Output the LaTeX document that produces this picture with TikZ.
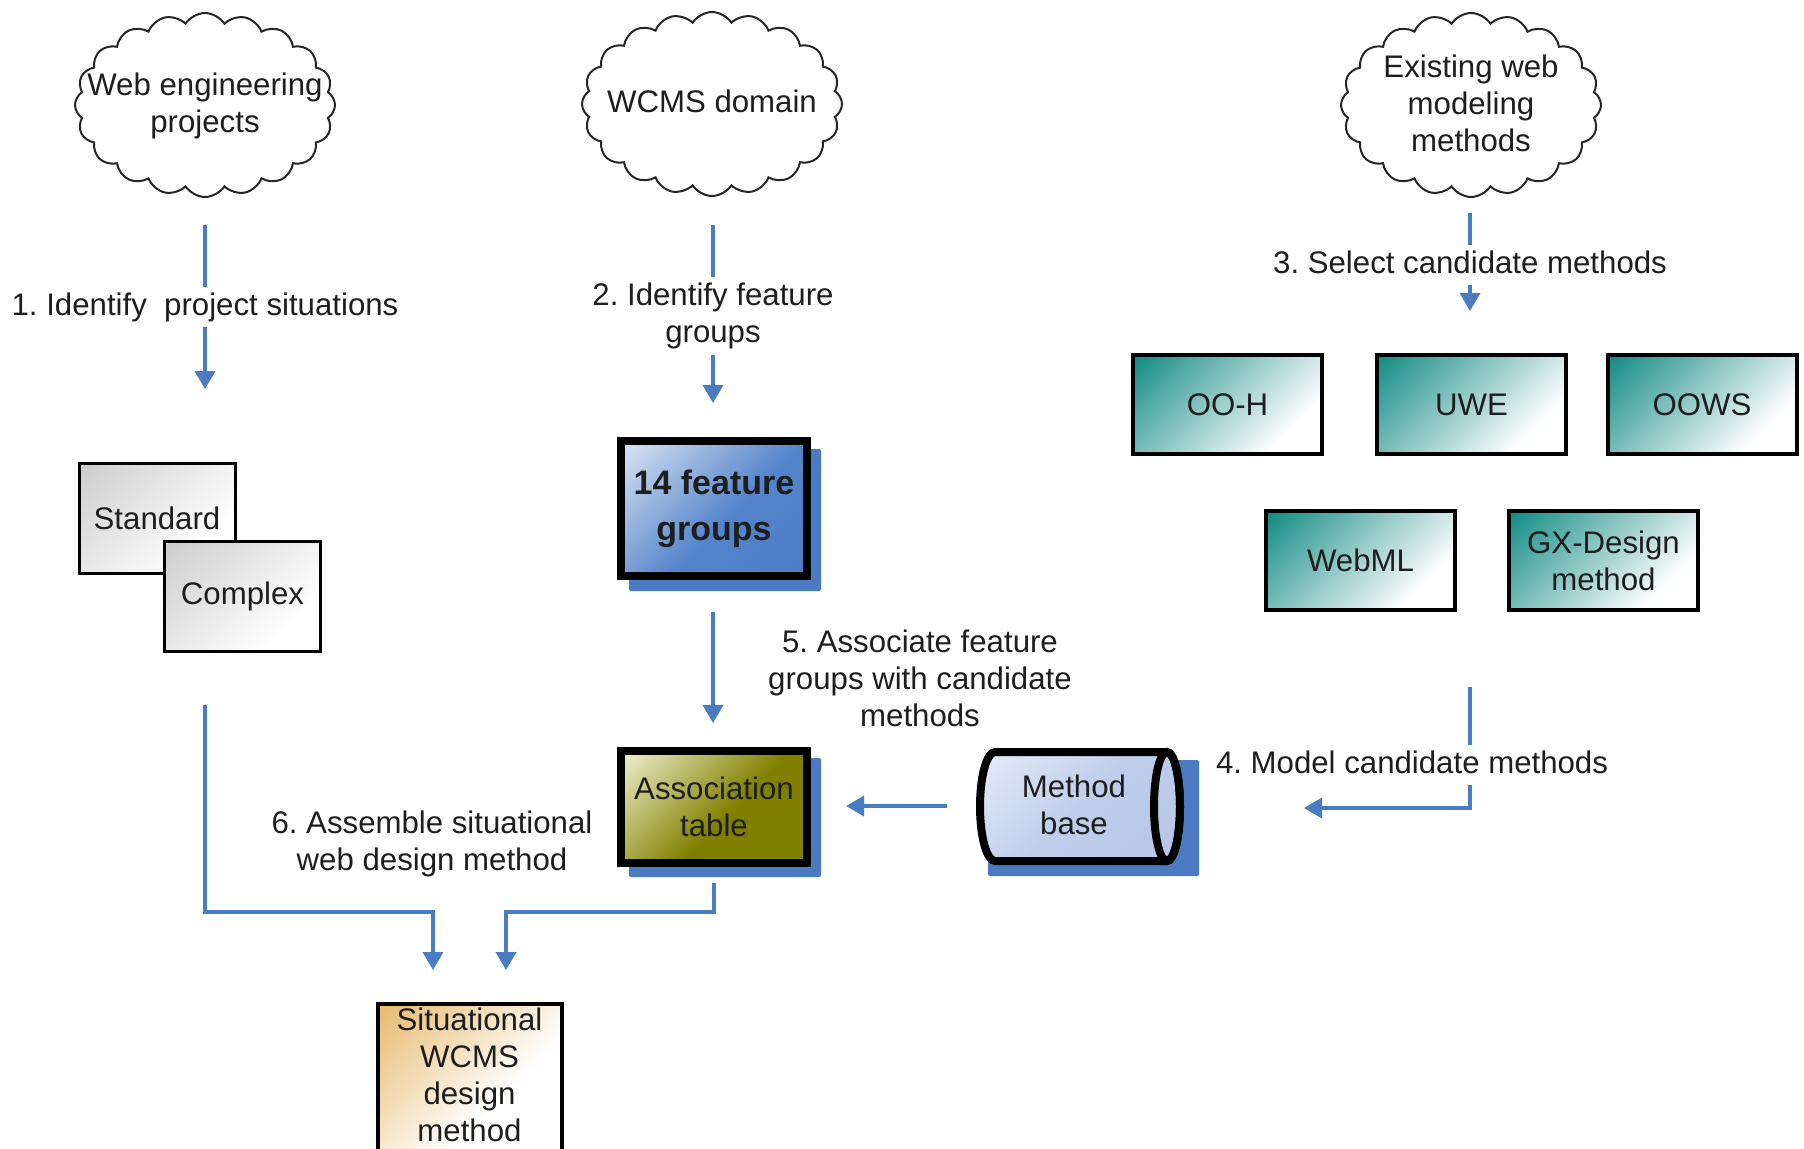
\documentclass[tikz,border=0pt]{standalone}
\usepackage{fontspec}
\setmainfont{Liberation Sans}
\usetikzlibrary{shapes.symbols,arrows.meta,calc}
\frenchspacing

\definecolor{arrblue}{RGB}{74,124,196}
\definecolor{shblue}{RGB}{74,122,194}
\definecolor{textc}{RGB}{30,30,30}
\definecolor{tealc}{RGB}{18,138,131}
\definecolor{grayc}{RGB}{205,205,205}
\definecolor{fgdark}{RGB}{72,122,196}
\definecolor{fgmid}{RGB}{84,132,202}
\definecolor{fglight}{RGB}{226,234,246}
\definecolor{olivedark}{RGB}{128,128,0}
\definecolor{olivelight}{RGB}{246,246,218}
\definecolor{mbdark}{RGB}{178,197,230}
\definecolor{mbmid}{RGB}{190,206,234}
\definecolor{mblight}{RGB}{230,237,248}
\definecolor{tanc}{RGB}{230,182,104}

\pgfdeclareverticalshading{tealsh}{100bp}{color(0bp)=(white); color(28bp)=(white); color(85bp)=(tealc); color(100bp)=(tealc)}
\pgfdeclareverticalshading{graysh}{100bp}{color(0bp)=(white); color(30bp)=(white); color(85bp)=(grayc); color(100bp)=(grayc)}
\pgfdeclareverticalshading{fgsh}{100bp}{color(0bp)=(fgdark); color(45bp)=(fgmid); color(87bp)=(fglight); color(100bp)=(fglight)}
\pgfdeclareverticalshading{olsh}{100bp}{color(0bp)=(olivedark); color(45bp)=(olivedark); color(87bp)=(olivelight); color(100bp)=(olivelight)}
\pgfdeclareverticalshading{mbsh}{100bp}{color(0bp)=(mbdark); color(50bp)=(mbmid); color(87bp)=(mblight); color(100bp)=(mblight)}
\pgfdeclareverticalshading{tansh}{100bp}{color(0bp)=(white); color(45bp)=(white); color(87bp)=(tanc); color(100bp)=(tanc)}

\tikzset{
  txt/.style={font=\fontsize{15.6}{18.5}\selectfont, align=center, text=textc, inner sep=1.5pt},
  lbl/.style={txt, fill=white, inner ysep=3pt},
  lblone/.style={txt, fill=white, text height=11.5pt, text depth=3.5pt, inner ysep=2.5pt},
  cloudsty/.style={cloud, draw=black!85, line width=1pt, cloud puffs=20, cloud puff arc=115,
    cloud ignores aspect, minimum width=130pt, minimum height=92pt, inner sep=0pt},
  arr/.style={draw=arrblue, line width=1.8pt, -{Triangle[length=9pt,width=10pt]}},
  graybox/.style={draw=black, line width=1.5pt, shading=graysh, shading angle=45,
    minimum width=78pt, minimum height=55pt, inner sep=0pt, txt},
  tealbox/.style={draw=black, line width=2pt, shading=tealsh, shading angle=45,
    minimum width=94.5pt, minimum height=49.5pt, inner sep=0pt, txt},
  thickbox/.style={draw=black, line width=4pt, shading angle=45,
    minimum width=93pt, inner sep=0pt, txt},
  shadowsty/.style={fill=shblue, rounded corners=1pt}
}

\begin{document}
\begin{tikzpicture}[x=0.5pt,y=-0.5pt]
\useasboundingbox (0,0) rectangle (1804,1148);
\clip (0,0) rectangle (1804,1148);
\fill[white] (0,0) rectangle (1804,1148);

% clouds
\node[cloudsty] (c1) at (205,105) {};
\node[txt] (c1t) at (205,106) {Web engineering\\projects};
\node[cloudsty] (c2) at (712,104) {};
\node[txt] (c2t) at (712,101) {WCMS domain};
\node[cloudsty] (c3) at (1471,105) {};
\node[txt] (c3t) at (1471,103) {Existing web\\modeling\\methods};

% situation boxes
\node[graybox] (std) at (157,518.5) {Standard};
\node[graybox] (cpx) at (242.5,596.5) {Complex};

% feature groups
\fill[shadowsty] (629,449) rectangle (821,591);
\node[thickbox, shading=fgsh, minimum height=67.5pt, font=\bfseries\fontsize{17}{23}\selectfont] (fg) at (714,508.5) {14 feature\\groups};

% candidate methods
\node[tealbox] (ooh) at (1227.5,404.5) {OO-H};
\node[tealbox] (uwe) at (1471.5,404.5) {UWE};
\node[tealbox] (oows) at (1702,404.5) {OOWS};
\node[tealbox] (webml) at (1360.5,560.5) {WebML};
\node[tealbox] (gx) at (1603.5,560.5) {GX-Design\\method};

% association table
\fill[shadowsty] (629,758) rectangle (821,877);
\node[thickbox, shading=olsh, minimum height=56pt] (at) at (714,807) {Association\\table};

% method base cylinder
\fill[shadowsty] (988,760) rectangle (1199,876);
\shade[shading=mbsh, shading angle=45] (995,752) -- (1167,752)
  arc[start angle=-90, end angle=90, x radius=13, y radius=54.5] -- (995,861)
  arc[start angle=90, end angle=270, x radius=15, y radius=54.5] -- cycle;
\draw[line width=4pt, line join=round] (995,752) -- (1167,752)
  arc[start angle=-90, end angle=90, x radius=13, y radius=54.5] -- (995,861)
  arc[start angle=90, end angle=270, x radius=15, y radius=54.5] -- cycle;
\draw[line width=4pt] (1167,806.5) ellipse [x radius=13, y radius=54.5];
\node[txt] (mb) at (1074,805) {Method\\base};

% result box
\node[draw=black, line width=2pt, shading=tansh, shading angle=45, minimum width=92pt,
  minimum height=100pt, inner sep=0pt] (sit) at (469.5,1104) {};
\node[txt] (sitt) at (469.5,1075) {Situational\\WCMS\\design\\method};

% connector end points
\coordinate (a1s) at (205,225);  \coordinate (a1e) at (205,389);
\coordinate (a2s) at (713,225);  \coordinate (a2e) at (713,403);
\coordinate (a3s) at (1470,213); \coordinate (a3e) at (1470,311);
\coordinate (a5s) at (713,612);  \coordinate (a5e) at (713,723);
\coordinate (ams) at (947,806);  \coordinate (ame) at (846,806);
\coordinate (a4s) at (1470,687); \coordinate (a4e) at (1304,808);
\coordinate (a6s) at (205,705);  \coordinate (a6k) at (205,912);  \coordinate (a6e) at (433,970);
\coordinate (a7s) at (714,883);  \coordinate (a7k) at (714,912);  \coordinate (a7e) at (506,970);

% connectors
\draw[arr] (a1s) -- (a1e);
\draw[arr] (a2s) -- (a2e);
\draw[arr] (a3s) -- (a3e);
\draw[arr] (a5s) -- (a5e);
\draw[arr] (ams) -- (ame);
\draw[arr] (a4s) |- (a4e);
\draw[arr] (a6s) -- (a6k) -| (a6e);
\draw[arr] (a7s) -- (a7k) -| (a7e);

% labels
\node[lblone] (l1) at (205,307) {1. Identify\ \ project situations};
\node[lbl] (l2) at (713,316) {2. Identify feature\\groups};
\node[lblone] (l3) at (1470,265) {3. Select candidate methods};
\node[lblone] (l4) at (1412,765) {4. Model candidate methods};
\node[txt] (l5) at (920,678) {5. Associate feature\\groups with candidate\\methods};
\node[txt] (l6) at (432,844) {6. Assemble situational\\web design method};
\end{tikzpicture}
\end{document}
